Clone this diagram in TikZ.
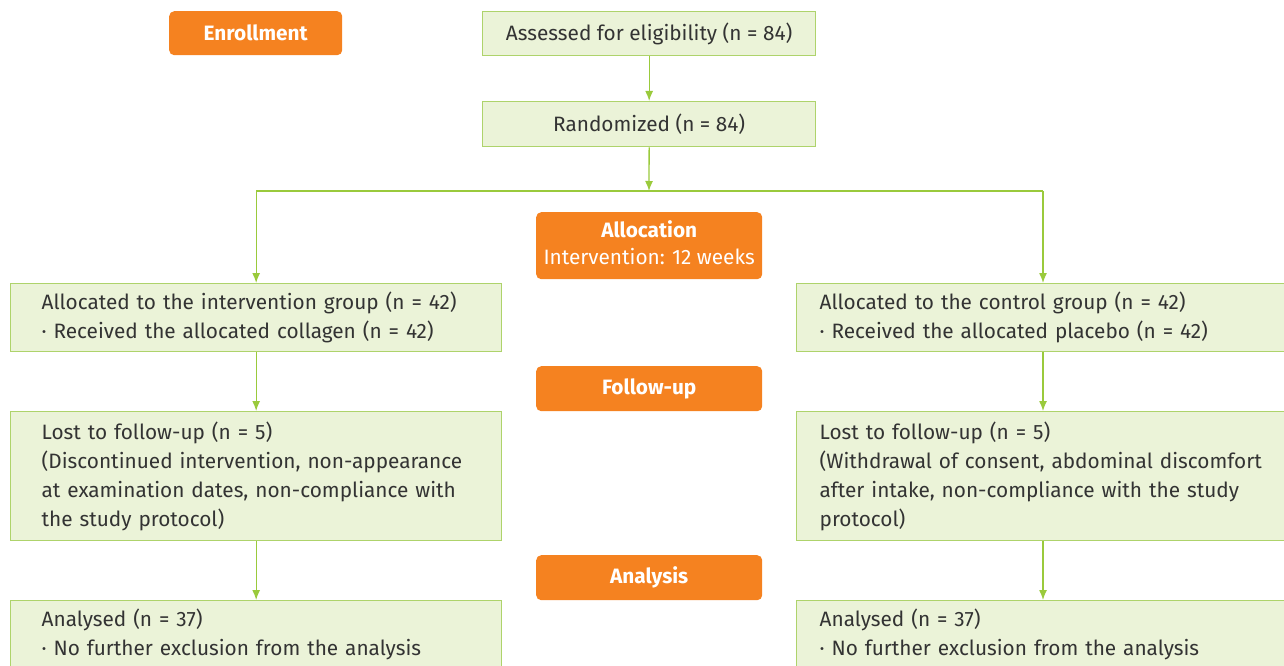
\documentclass[tikz,border=0pt]{standalone}
\usepackage{fontspec}
\setmainfont{Fira Sans}
\usetikzlibrary{arrows.meta}
\definecolor{gfill}{HTML}{EBF3D8}
\definecolor{gborder}{HTML}{AED36B}
\definecolor{garrow}{HTML}{9ACA3C}
\definecolor{orng}{HTML}{F58220}
\definecolor{txt}{HTML}{333333}
\begin{document}
\begin{tikzpicture}[x=1pt,y=-1pt,
  gbox/.style={draw=gborder, fill=gfill, line width=1.3pt, text=txt, anchor=north west,
    font=\fontsize{20.8}{29}\selectfont, inner ysep=0pt},
  gleft/.style={gbox, align=left, text width=429pt, inner xsep=31pt, minimum width=491pt},
  gright/.style={gbox, align=left, text width=470pt, inner xsep=23pt},
  gtop/.style={gbox, align=center, minimum width=333pt, inner xsep=0pt},
  obox/.style={fill=orng, rounded corners=5pt, text=white, anchor=north west, inner sep=0pt,
    align=center, font=\fontsize{20.8}{29}\selectfont},
  arr/.style={draw=garrow, line width=1.3pt, -{Latex[length=10pt,width=8pt]}},
  ln/.style={draw=garrow, line width=1.3pt}
]
\useasboundingbox (0,0) rectangle (1284,666);
% stage labels
\node[obox, minimum width=173pt, minimum height=44pt] (enr) at (169,11) {\bfseries Enrollment};
\node[obox, minimum width=226pt, minimum height=67pt] (alloc) at (536,212) {\bfseries Allocation\\[-2pt]Intervention: 12 weeks\\[-22pt]\mbox{}};
\node[obox, minimum width=226pt, minimum height=45pt] (fu) at (536,366) {\bfseries Follow-up};
\node[obox, minimum width=226pt, minimum height=45pt] (ana) at (536,555) {\bfseries Analysis};
% top boxes
\node[gtop, minimum height=44pt] (ass) at (482,11) {Assessed for eligibility (n = 84)};
\node[gtop, minimum height=45pt] (rand) at (482,101) {Randomized (n = 84)};
% left column
\node[gleft, minimum height=68pt] (al) at (10,283) {Allocated to the intervention group (n = 42)\\ · Received the allocated collagen (n = 42)};
\node[gleft, minimum height=129pt] (ll) at (10,411) {Lost to follow-up (n = 5)\\ (Discontinued intervention, non-appearance\\ at examination dates, non-compliance with\\ the study protocol)};
\node[gleft, minimum height=68pt] (anl) at (10,600) {Analysed (n = 37)\\ · No further exclusion from the analysis};
% right column
\node[gright, minimum height=68pt] (ar) at (796,283) {Allocated to the control group (n = 42)\\ · Received the allocated placebo (n = 42)};
\node[gright, minimum height=129pt] (lr) at (796,411) {Lost to follow-up (n = 5)\\ (Withdrawal of consent, abdominal discomfort\\ after intake, non-compliance with the study\\ protocol)};
\node[gright, minimum height=68pt] (anr) at (796,600) {Analysed (n = 37)\\ · No further exclusion from the analysis};
% connectors
\coordinate (j) at (649,191);
\coordinate (jl) at (al.north |- j);
\coordinate (jr) at (1043,191);
\draw[arr] (ass.south) -- (rand.north);
\draw[arr] (rand.south) -- (j);
\draw[ln] (jl) -- (jr);
\draw[arr] (jl) -- (al.north);
\draw[arr] (jr) -- (jr |- ar.north);
\draw[arr] (al.south) -- (ll.north);
\draw[arr] (ll.south) -- (anl.north);
\draw[arr] (jr |- ar.south) -- (jr |- lr.north);
\draw[arr] (jr |- lr.south) -- (jr |- anr.north);
\end{tikzpicture}
\end{document}
